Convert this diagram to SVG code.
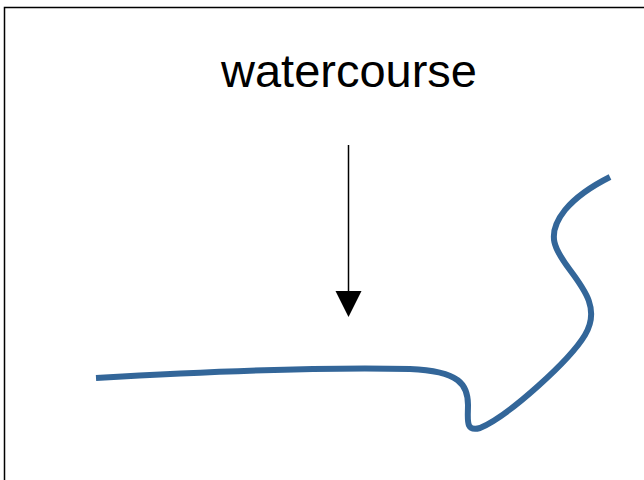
<svg xmlns="http://www.w3.org/2000/svg" width="644" height="480" viewBox="0 0 644 480">
  <defs>
    <style>
      .frame { fill: #fff; stroke: #000; stroke-width: 1.5; }
      .label { font-family: "Liberation Sans", Arial, sans-serif; font-size: 47px; fill: #000; }
      .pointer { stroke: #000; stroke-width: 1.5; fill: none; }
      .pointer-head { fill: #000; }
      .river { stroke: #336699; stroke-width: 6; fill: none; stroke-linecap: butt; }
    </style>
  </defs>
  <rect width="644" height="480" fill="#fff"/>
  <!-- frame runs off the right and bottom edges -->
  <rect class="frame" x="4.5" y="7.5" width="660" height="500"/>
  <g id="title">
    <text class="label" x="349" y="87" text-anchor="middle">watercourse</text>
  </g>
  <g id="connectors">
    <line class="pointer" x1="348.5" y1="145" x2="348.5" y2="292"/>
    <polygon class="pointer-head" points="335.5,291 361.5,291 348.5,317"/>
  </g>
  <g id="watercourse-line">
    <path class="river" d="M96,378 C200,372 330,367 410,369 C460,371 468,385 468,405 C468,420 465,432 480,428 C510,415 570,360 585,335 C600,310 585,290 570,270 C555,250 545,235 565,210 C580,192 600,182 610,177"/>
  </g>
</svg>
